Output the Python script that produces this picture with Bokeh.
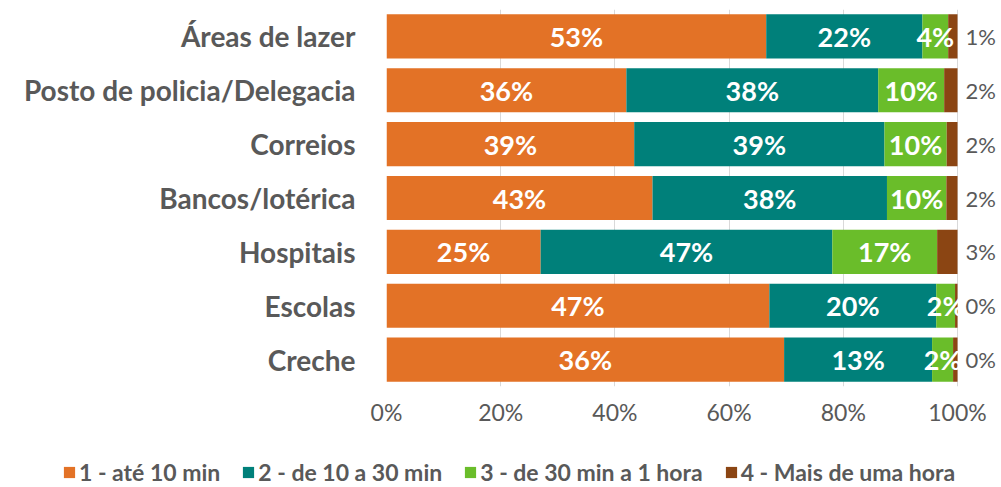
from bokeh.plotting import figure
from bokeh.models import ColumnDataSource, FactorRange, NumeralTickFormatter, Legend, LegendItem, FixedTicker
from bokeh.core.properties import value
from bokeh.embed import file_html
from bokeh.resources import INLINE

categories = ["Áreas de lazer", "Posto de policia/Delegacia", "Correios", "Bancos/lotérica",
              "Hospitais", "Escolas", "Creche"]
series_names = ["1 - até 10 min", "2 - de 10 a 30 min", "3 - de 30 min a 1 hora", "4 - Mais de uma hora"]
s1 = [53.0, 36.0, 39.0, 43.0, 25.0, 46.8, 36.0]
s2 = [21.8, 37.8, 39.4, 37.9, 47.3, 20.4, 13.4]
s3 = [3.6, 9.9, 9.8, 9.6, 17.0, 2.3, 1.9]
s4 = [1.3, 2.0, 1.7, 1.8, 3.3, 0.3, 0.4]
colors = ["#E37226", "#00807A", "#6ABD2A", "#8B4513"]
x_ticks = [0, 20, 40, 60, 80, 100]

FONT = "Lato"
GRAY = "#595959"

series = [s1, s2, s3, s4]
totals = [sum(v) for v in zip(*series)]
keys = ["a", "b", "c", "d"]
data = {"cat": categories}
for k, s in zip(keys, series):
    data[k] = [v / t * 100 for v, t in zip(s, totals)]
src = ColumnDataSource(data)

W = 1001
LEFT = 386
FRAME_W = W - LEFT
X_END = 100 * FRAME_W / 571.0

p = figure(width=W, height=437, y_range=FactorRange(factors=categories[::-1]),
           x_range=(0, X_END), output_backend="svg", toolbar_location=None,
           min_border_left=LEFT, min_border_right=0, min_border_top=9, min_border_bottom=51)
p.outline_line_color = None
p.background_fill_color = None
p.border_fill_color = "white"

renderers = p.hbar_stack(keys, y="cat", height=0.82, color=colors, line_color=None, source=src)

in_x, in_y, in_t = [], [], []
out_x, out_y, out_t = [], [], []
for i, c in enumerate(categories):
    left = 0.0
    for j, k in enumerate(keys):
        w = data[k][i]
        if j < 3:
            in_x.append(left + w / 2)
            in_y.append(c)
            in_t.append(f"{round(series[j][i]):.0f}%")
        else:
            out_x.append(100)
            out_y.append(c)
            out_t.append(f"{round(series[j][i]):.0f}%")
        left += w

p.text(x=in_x, y=in_y, text=in_t, text_align="center", text_baseline="middle",
       text_color="white", text_font=value(FONT), text_font_style="bold", text_font_size="27px")
p.text(x=out_x, y=out_y, text=out_t, text_align="left", text_baseline="middle", x_offset=8,
       text_color=GRAY, text_font=value(FONT), text_font_size="22px")

p.xaxis.ticker = FixedTicker(ticks=x_ticks)
p.xaxis.formatter = NumeralTickFormatter(format="0")
p.xaxis.major_label_overrides = {t: f"{t}%" for t in x_ticks}
p.xaxis.axis_line_color = None
p.xaxis.major_tick_line_color = None
p.xaxis.minor_tick_line_color = None
p.xaxis.major_label_text_font = FONT
p.xaxis.major_label_text_font_size = "23px"
p.xaxis.major_label_text_color = GRAY
p.xaxis.major_label_standoff = 5

p.yaxis.axis_line_color = None
p.yaxis.major_tick_line_color = None
p.yaxis.minor_tick_line_color = None
p.yaxis.major_label_text_font = FONT
p.yaxis.major_label_text_font_style = "bold"
p.yaxis.major_label_text_font_size = "28px"
p.yaxis.major_label_text_color = GRAY
p.yaxis.major_label_standoff = 25

p.ygrid.grid_line_color = None
p.xgrid.grid_line_color = "#D9D9D9"
p.xgrid.grid_line_width = 1

# legend in its own strip below the chart (proxy glyphs sit outside the visible range)
q = figure(width=W, height=50, x_range=(0, 1), y_range=(0, 1), output_backend="svg",
           toolbar_location=None, min_border=0)
q.axis.visible = False
q.grid.visible = False
q.outline_line_color = None
leg_r = [q.hbar(y=[5], left=[5], right=[6], height=1, color=c, line_color=None) for c in colors]
legend = Legend(items=[LegendItem(label=n, renderers=[r]) for n, r in zip(series_names, leg_r)],
                orientation="horizontal", location=(62, 1))
legend.label_text_font = FONT
legend.label_text_font_style = "bold"
legend.label_text_font_size = "23px"
legend.label_text_color = GRAY
legend.glyph_width = 14
legend.glyph_height = 14
legend.label_standoff = 3
legend.spacing = 21
legend.border_line_color = None
legend.background_fill_alpha = 0
legend.padding = 0
legend.margin = 0
q.add_layout(legend, "center")

open("out.html", "w").write(file_html([p, q], INLINE))
